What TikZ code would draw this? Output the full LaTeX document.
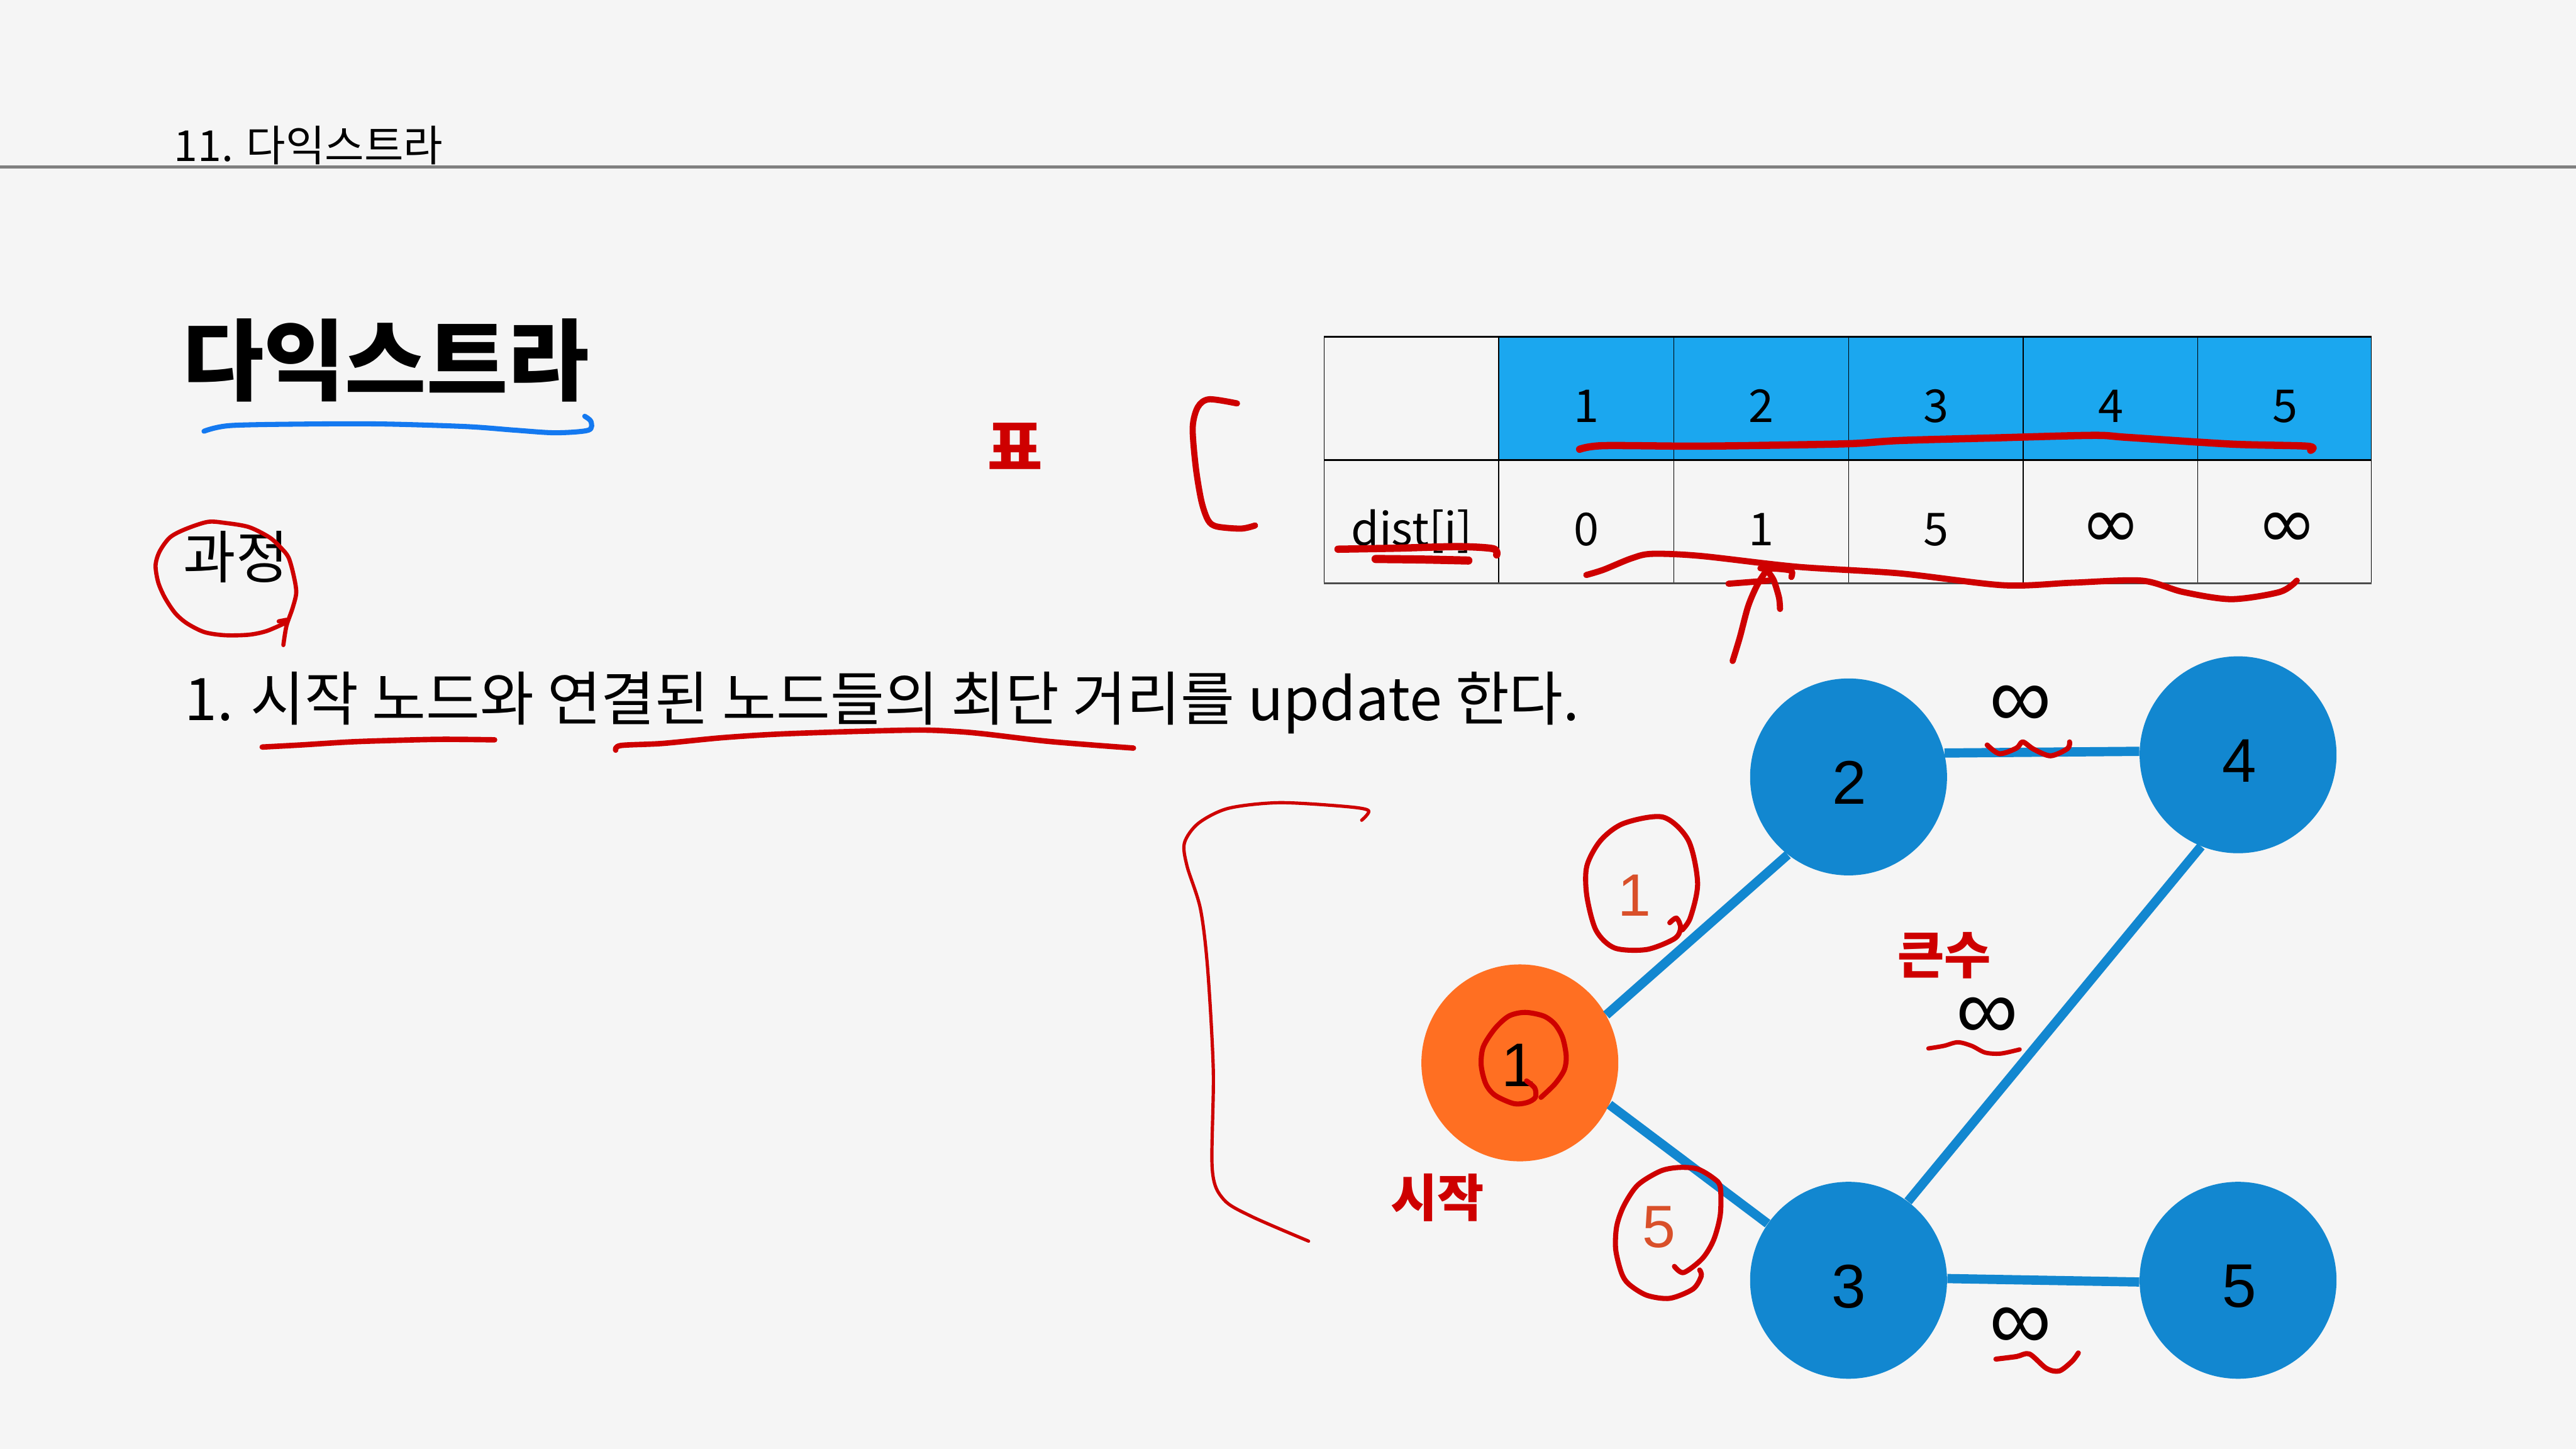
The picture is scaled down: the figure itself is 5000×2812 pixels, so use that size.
\documentclass[tikz,border=0pt]{standalone}
\usepackage{fontspec}
\setmainfont{Noto Sans CJK KR}
\newfontfamily\krfont{Noto Sans CJK KR}
\newfontfamily\arialfont{Liberation Sans}
\newfontfamily\djfont{DejaVu Sans}
\newcommand\fsz[1]{\fontsize{#1}{#1}\selectfont}
\definecolor{bg}{RGB}{245,245,245}
\definecolor{tblue}{RGB}{27,167,239}
\definecolor{nblue}{RGB}{18,135,208}
\definecolor{norange}{RGB}{255,111,34}
\definecolor{lorange}{RGB}{217,80,42}
\definecolor{hred}{RGB}{206,0,0}
\definecolor{ublue}{RGB}{20,121,240}
\definecolor{hgray}{RGB}{128,128,128}
\begin{document}
\begin{tikzpicture}[x=0.01cm,y=-0.01cm,
  txt/.style={inner sep=0,outer sep=0},
  hw/.style={draw=hred,line cap=round,line join=round,line width=#1},
  hw/.default={2.8pt},
  gnode/.style={circle,minimum size=3.82cm,inner sep=0,fill=nblue,font=\arialfont\fsz{34pt}},
  glab/.style={txt,font=\arialfont\fsz{34pt}},
  gedge/.style={draw=nblue,line width=5.1pt},
  tnum/.style={txt,anchor=base,font=\krfont\fsz{25pt}},
  tinf/.style={txt,font=\djfont\fsz{40pt}},
  ginf/.style={txt,font=\arialfont\fsz{48pt}},
  wlab/.style={txt,text=lorange,font=\arialfont\fsz{33pt}},
  hwtext/.style={txt,text=hred,font=\krfont\bfseries\fsz{28pt}}
]
\useasboundingbox (0,0) rectangle (5000,2812);
\fill[bg] (0,0) rectangle (5000,2812);

% header
\node[txt,anchor=base west,font=\krfont\fsz{23.6pt}] (hdr) at (338,313) {11. 다익스트라};
\draw[hgray,line width=1.9pt] (0,324) -- (5000,324);

% title
\node[txt,anchor=base west,font=\krfont\bfseries\fsz{48.8pt}] (title) at (354,764) {다익스트라};
\draw[ublue,line width=2.8pt,line cap=round,line join=round] plot[smooth] coordinates {(396,837) (447,826) (600,823) (746,823) (906,828) (1000,835) (1078,840) (1142,835) (1147,818) (1135,808)};

% body
\node[txt,anchor=base west,font=\krfont\fsz{31.5pt}] (proc) at (356,1122) {과정};
\node[txt,anchor=base west,font=\krfont\fsz{32.4pt}] (step1) at (358,1398) {1. 시작 노드와 연결된 노드들의 최단 거리를 update 한다.};

% table
\fill[tblue] (2909,654) rectangle (4603,893);
\foreach \xx in {2570,2909,3249,3588,3927,4266,4603}
  \draw[black,line width=0.45pt] (\xx,654) -- (\xx,1132);
\draw[black,line width=0.9pt] (2570,654) -- (4603,654);
\draw[black,line width=0.9pt] (2570,893) -- (4603,893);
\draw[black!70,line width=0.9pt] (2570,1132) -- (4603,1132);

\node[tnum] (h1) at (3079,820) {1};
\node[tnum] (h2) at (3419,820) {2};
\node[tnum] (h3) at (3758,820) {3};
\node[tnum] (h4) at (4097,820) {4};
\node[tnum] (h5) at (4435,820) {5};
\node[tnum] (dist) at (2740,1059) {dist[i]};
\node[tnum] (d1) at (3079,1059) {0};
\node[tnum] (d2) at (3419,1059) {1};
\node[tnum] (d3) at (3758,1059) {5};
\node[tinf] (d4) at (4097,1030) {∞};
\node[tinf] (d5) at (4439,1030) {∞};

% graph
\node[gnode,fill=norange] (n1) at (2950,2063) {};
\node[gnode] (n2) at (3588,1508) {};
\node[gnode] (n4) at (4344,1465) {};
\node[gnode] (n3) at (3588,2485) {};
\node[gnode] (n5) at (4344,2485) {};
\node[glab] (l1) at (2948,2068) {1};
\node[glab] (l2) at (3590,1519) {2};
\node[glab] (l4) at (4346,1477) {4};
\node[glab] (l3) at (3588,2497) {3};
\node[glab] (l5) at (4346,2497) {5};
\draw[gedge] (n1.29) -- (n2.232);
\draw[gedge] (n1.-25) -- (n3.145);
\draw[gedge] (n2.14) -- (n4.178);
\draw[gedge] (n4.248) -- (n3.53);
\draw[gedge] (n3.1.5) -- (n5.181.5);

\node[wlab] (w12) at (3173,1738) {1};
\node[wlab] (w13) at (3220,2382) {5};
\node[ginf] (w24) at (3922,1371) {∞};
\node[ginf] (w34) at (3857,1977) {∞};
\node[ginf] (w35) at (3922,2578) {∞};

% handwritten annotations
\draw[hw=2.3pt] plot[smooth] coordinates {(550,1252) (556,1215) (568,1180) (575,1150) (570,1117) (560,1082) (545,1063) (523,1043) (483,1023) (437,1015) (403,1013) (360,1027) (330,1043) (310,1070) (302,1097) (307,1130) (320,1160) (340,1190) (363,1210) (397,1227) (437,1233) (483,1232) (517,1225) (552,1210)};
\draw[hw=2.3pt] (541,1206) -- (556,1203);
\draw[hw=3pt] plot[smooth] coordinates {(509,1450) (583,1446) (680,1440) (768,1437) (860,1435) (960,1436)};
\draw[hw=3pt] plot[smooth] coordinates {(1195,1456) (1205,1447) (1286,1443) (1400,1432) (1508,1425) (1650,1420) (1785,1417) (1860,1420) (1915,1425) (2025,1438) (2120,1446) (2200,1452)};

\node[hwtext,font=\krfont\bfseries\fsz{33pt}] (pyo) at (1971,866) {표};
\draw[hw=3.4pt] plot[smooth] coordinates {(2401,783) (2347,775) (2325,790) (2315,830) (2321,907) (2332,973) (2345,1010) (2362,1022) (2409,1026) (2436,1020)};

\draw[hw=4pt] plot[smooth] coordinates {(3066,872) (3112,865) (3287,866) (3450,864) (3595,861) (3688,855) (3870,850) (4063,845) (4130,849) (4331,862) (4478,866) (4485,874)};
\draw[hw=4pt] plot[smooth] coordinates {(2597,1066) (2711,1064) (2831,1061) (2898,1065) (2905,1077)};
\draw[hw=4.5pt] plot[smooth] coordinates {(2670,1085) (2760,1086) (2850,1088)};
\draw[hw=3.4pt] plot[smooth] coordinates {(3079,1116) (3112,1106) (3166,1084) (3206,1075) (3300,1079) (3487,1100) (3688,1113) (3889,1136) (4023,1131) (4157,1127) (4237,1149) (4331,1163) (4425,1149) (4458,1127)};

\draw[hw=3.4pt] plot[smooth] coordinates {(3363,1283) (3377,1237) (3393,1177) (3410,1137) (3427,1110) (3437,1103)};
\draw[hw=3.4pt] plot[smooth] coordinates {(3432,1110) (3443,1127) (3453,1160) (3455,1182)};
\draw[hw=3.4pt] (3355,1133) -- (3433,1127);
\draw[hw=3.4pt] plot[smooth] coordinates {(3417,1103) (3450,1104) (3477,1108) (3477,1120)};

\draw[hw=1.8pt] plot[smooth] coordinates {(2643,1592) (2656,1573) (2607,1565) (2482,1558) (2384,1569) (2326,1598) (2299,1636) (2304,1681) (2330,1764) (2344,1880) (2355,2079) (2353,2270) (2375,2328) (2429,2361) (2540,2409)};

\draw[hw] plot[smooth] coordinates {(3241,1791) (3254,1782) (3262,1801) (3250,1822) (3196,1843) (3134,1840) (3098,1806) (3080,1739) (3080,1681) (3107,1631) (3152,1598) (3228,1586) (3277,1631) (3295,1714) (3281,1781) (3265,1805)};
\draw[hw] plot[smooth] coordinates {(2991,2130) (3018,2104) (3036,2077) (3040,2050) (3033,2014) (3018,1988) (2996,1972) (2960,1965) (2929,1972) (2902,1996) (2879,2032) (2875,2068) (2884,2104) (2902,2126) (2938,2142) (2964,2140) (2980,2130) (2979,2112) (2963,2098)};
\draw[hw] plot[smooth] coordinates {(3250,2458) (3268,2470) (3304,2443) (3326,2407) (3339,2358) (3339,2304) (3326,2287) (3295,2269) (3259,2266) (3223,2273) (3179,2300) (3152,2340) (3138,2380) (3136,2425) (3147,2470) (3161,2492) (3196,2514) (3241,2520) (3286,2502) (3302,2477) (3299,2465)};

\node[hwtext] (sijak) at (2790,2325) {시작};
\node[hwtext] (keunsu) at (3774,1855) {큰수};

\draw[hw] plot[smooth] coordinates {(3857,1446) (3881,1463) (3914,1452) (3926,1440) (3947,1454) (3980,1467) (4013,1453) (4017,1440)};
\draw[hw=2.4pt] plot[smooth] coordinates {(3743,2035) (3773,2030) (3800,2023) (3827,2030) (3853,2043) (3883,2045) (3920,2037)};
\draw[hw] plot[smooth] coordinates {(3874,2638) (3914,2633) (3939,2628) (3972,2656) (3997,2661) (4022,2642) (4034,2626)};
\end{tikzpicture}
\end{document}
